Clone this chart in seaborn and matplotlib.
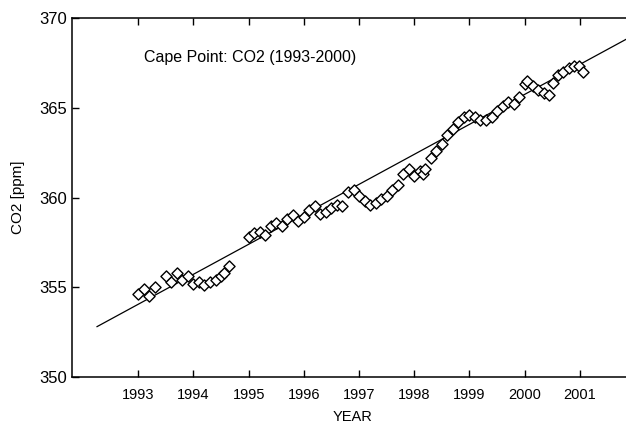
import matplotlib
matplotlib.use("Agg")
import matplotlib.pyplot as plt
import seaborn as sns
import pandas as pd

years = [1993.0, 1993.1, 1993.2, 1993.3, 1993.5, 1993.6, 1993.7, 1993.8, 1993.9,
         1994.0, 1994.1, 1994.2, 1994.3, 1994.4, 1994.5, 1994.55, 1994.65,
         1995.0, 1995.1, 1995.2, 1995.3, 1995.4, 1995.5, 1995.6, 1995.7, 1995.8, 1995.9,
         1996.0, 1996.1, 1996.2, 1996.3, 1996.4, 1996.5, 1996.6, 1996.7, 1996.8, 1996.9,
         1997.0, 1997.1, 1997.2, 1997.3, 1997.4, 1997.5, 1997.6, 1997.7, 1997.8, 1997.9,
         1998.0, 1998.1, 1998.15, 1998.2, 1998.3, 1998.4, 1998.5, 1998.6, 1998.7, 1998.8, 1998.9,
         1999.0, 1999.1, 1999.2, 1999.3, 1999.4, 1999.5, 1999.6, 1999.7, 1999.8, 1999.9,
         2000.0, 2000.05, 2000.15, 2000.25, 2000.35, 2000.45, 2000.52, 2000.6, 2000.7,
         2000.8, 2000.9, 2000.98, 2001.05]
co2 = [354.6, 354.9, 354.5, 355.0, 355.6, 355.3, 355.8, 355.4, 355.6,
       355.2, 355.3, 355.1, 355.3, 355.4, 355.6, 355.8, 356.2,
       357.8, 358.0, 358.1, 357.9, 358.4, 358.6, 358.4, 358.8, 359.0, 358.7,
       358.9, 359.3, 359.5, 359.1, 359.2, 359.4, 359.6, 359.5, 360.3, 360.4,
       360.1, 359.8, 359.6, 359.7, 359.9, 360.1, 360.4, 360.7, 361.3, 361.6,
       361.2, 361.5, 361.3, 361.6, 362.2, 362.6, 363.0, 363.5, 363.8, 364.2, 364.5,
       364.6, 364.5, 364.3, 364.3, 364.5, 364.8, 365.1, 365.3, 365.2, 365.6,
       366.3, 366.5, 366.2, 366.0, 365.8, 365.7, 366.4, 366.8, 367.0,
       367.2, 367.3, 367.3, 367.0]

trend_years = [1992.25, 2001.95]
trend_co2 = [352.8, 369.0]

year_ticks = [1993, 1994, 1995, 1996, 1997, 1998, 1999, 2000, 2001]
co2_ticks = [350, 355, 360, 365, 370]

sns.set_style("ticks")
plt.rcParams["font.family"] = ["Liberation Sans", "DejaVu Sans"]
plt.rcParams["text.color"] = "black"
plt.rcParams["axes.labelcolor"] = "black"
plt.rcParams["xtick.color"] = "black"
plt.rcParams["ytick.color"] = "black"

fig = plt.figure(figsize=(6.26, 4.26), dpi=100)
ax = fig.add_axes([72 / 626, 1 - 377 / 426, 1.0 - 72 / 626 + 0.01, (377 - 18) / 426])

df = pd.DataFrame({"year": years, "co2": co2})
tr = pd.DataFrame({"year": trend_years, "co2": trend_co2})

sns.lineplot(data=tr, x="year", y="co2", ax=ax, color="black", linewidth=0.9)
sns.scatterplot(data=df, x="year", y="co2", ax=ax, marker="D", s=32,
                facecolor="white", edgecolor="black", linewidth=1.0, zorder=3)

ax.set_xlim(1991.8, 2001.95)
ax.set_ylim(350, 370)
ax.set_xticks(year_ticks)
ax.set_xticklabels([str(y) for y in year_ticks], fontsize=10.5)
ax.set_yticks(co2_ticks)
ax.set_yticklabels([str(v) for v in co2_ticks], fontsize=12)
ax.tick_params(direction="in", top=True, right=False, length=5, width=1, color="black",
               labelcolor="black")
ax.tick_params(axis="x", pad=8)
ax.set_xlabel("YEAR", fontsize=10.5, labelpad=6, color="black")
ax.set_ylabel("CO2 [ppm]", fontsize=11, labelpad=10, color="black")
for s in ax.spines.values():
    s.set_linewidth(1.1)
    s.set_color("black")

ax.text(1993.1, 367.8, "Cape Point: CO2 (1993-2000)", fontsize=11.5, va="center",
        ha="left", color="black")

fig.savefig("out.png", dpi=100)
